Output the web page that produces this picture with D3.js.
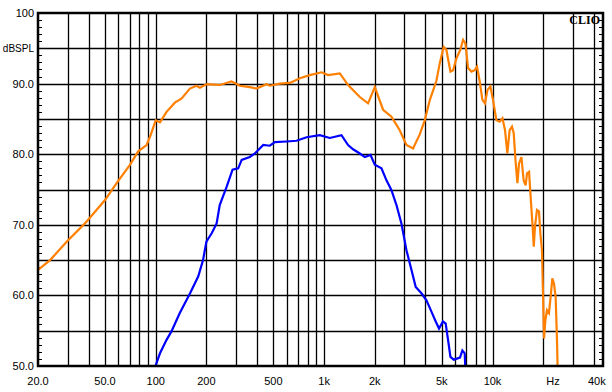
<!DOCTYPE html>
<html>
<head>
<meta charset="utf-8">
<script src="https://cdn.jsdelivr.net/npm/d3@7"></script>
<style>
  body { margin: 0; background: #fff; }
  svg { display: block; }
  text { font-family: "Liberation Sans", Arial, sans-serif; }
</style>
</head>
<body>
<div id="chart"></div>
<script>
// ---- data ----
var orangeFreq = [20, 23.6, 29.6, 38, 50, 58.6, 70.3, 78.7, 88.3, 93.3, 100, 106, 116, 130, 142.6, 159.6, 175, 183, 200,
  210, 240, 282, 316, 362, 397, 455, 476, 546, 626, 718, 822, 966, 1057, 1240, 1388, 1630, 1824, 2000, 2240, 2512,
  2812, 3083, 3375, 3698, 3960, 4247, 4645, 4864, 5130, 5323, 5626, 5836, 6111, 6446, 6687, 6906, 7161, 7500, 7840,
  8091, 8398, 8710, 9020, 9330, 9720, 10070, 10550, 11040, 11460, 11870, 12250, 12640, 13050, 13360, 13740, 14060,
  14370, 14850, 15310, 15740, 16030, 16480, 16790, 17100, 17400, 17580, 17870, 18370, 18880, 19240, 19670, 19950,
  20230, 20610, 21070, 21640, 22140, 22660, 23170, 23710, 24150, 24400];
var orangeDb = [63.6, 65.0, 67.6, 70.2, 73.5, 75.9, 78.5, 80.4, 81.3, 82.7, 84.8, 84.5, 86.0, 87.3, 87.9, 89.3, 89.7, 89.4, 89.9,
  89.9, 89.8, 90.3, 89.7, 89.5, 89.3, 89.9, 89.7, 90.0, 90.1, 90.75, 91.2, 91.6, 91.2, 91.45, 89.8, 88.1, 87.2, 89.5, 86.3, 85.3,
  83.4, 81.3, 80.8, 82.8, 84.8, 87.7, 90.4, 92.9, 95.2, 94.8, 91.7, 91.9, 93.6, 94.8, 96.2, 95.7, 92.2, 91.7, 91.9,
  92.4, 90.3, 87.7, 87.2, 89.1, 89.6, 87.7, 84.8, 84.6, 85.1, 83.4, 80.1, 83.4, 83.9, 83.0, 78.7, 75.9,
  78.7, 79.6, 76.3, 75.6, 77.3, 77.5, 74.5, 71.6, 68.8, 66.9, 69.7, 72.1, 71.9, 68.8, 66.4, 60.3,
  53.9, 56.5, 57.9, 57.5, 59.8, 62.4, 61.7, 59.8, 53.7, 49];

var blueFreq = [100, 106, 116, 124, 139, 160, 179, 191, 200, 215, 230, 240, 264, 286, 309, 324, 362, 388, 435, 476, 510,
  598, 686, 787, 943, 1081, 1268, 1388, 1486, 1630, 1745, 1885, 2000, 2191, 2346, 2512, 2690, 2878, 3083, 3303,
  3500, 3785, 4053, 4338, 4600, 4813, 5080, 5272, 5445, 5626, 5890, 6410, 6625, 6840, 6900];
var blueDb = [50.1, 51.8, 53.7, 54.9, 57.5, 60.3, 62.7, 65.0, 67.6, 68.8, 70.2, 72.8, 75.4, 77.8, 78.0, 79.2, 79.6, 80.1, 81.3, 81.2, 81.7,
  81.8, 81.9, 82.4, 82.7, 82.3, 82.7, 81.3, 80.7, 80.1, 79.6, 79.9, 78.5, 78.0, 76.3, 74.9, 72.8, 70.2, 66.4, 63.6,
  61.2, 60.3, 59.3, 57.7, 56.3, 55.3, 56.3, 56.0, 53.7, 51.3, 50.9, 51.2, 52.2, 51.8, 49.5];

var xTickVals = [20, 50, 100, 200, 500, 1000, 2000, 5000, 10000, 40000];
var xTickText = ["20.0", "50.0", "100", "200", "500", "1k", "2k", "5k", "10k", "40k"];
var yTickVals = [100, 95, 90, 80, 70, 60, 50];
var yTickText = ["100", "dBSPL", "90.0", "80.0", "70.0", "60.0", "50.0"];

// ---- layout ----
var W = 612, H = 392;
var pLeft = 38, pRight = 603, pTop = 13, pBottom = 366;

var xScale = d3.scaleLog().domain([20, 45000]).range([pLeft, pRight - 0.5]);
var yScale = d3.scaleLinear().domain([50, 100]).range([pBottom, pTop]);

var svg = d3.select("#chart").append("svg")
    .attr("width", W).attr("height", H);

svg.append("rect").attr("width", W).attr("height", H).attr("fill", "#fff");

svg.append("clipPath").attr("id", "plot")
  .append("rect").attr("x", pLeft).attr("y", pTop)
  .attr("width", pRight - pLeft).attr("height", pBottom - pTop);

// vertical grid: every 1..9 x decade
var vGrid = [];
[10, 100, 1000, 10000].forEach(function(dec) {
  for (var m = 1; m <= 9; m++) {
    var f = m * dec;
    if (f > 20 && f < 45000) vGrid.push(f);
  }
});
svg.append("g").selectAll("line").data(vGrid).enter().append("line")
  .attr("x1", function(d) { return Math.round(xScale(d)) + 0.5; })
  .attr("x2", function(d) { return Math.round(xScale(d)) + 0.5; })
  .attr("y1", pTop).attr("y2", pBottom)
  .attr("stroke", "#000").attr("stroke-width", 1.3);

// horizontal grid every 5 dB
var hGrid = d3.range(55, 100, 5);
svg.append("g").selectAll("line").data(hGrid).enter().append("line")
  .attr("x1", pLeft).attr("x2", pRight)
  .attr("y1", function(d) { return Math.round(yScale(d)) + 0.5; })
  .attr("y2", function(d) { return Math.round(yScale(d)) + 0.5; })
  .attr("stroke", "#000").attr("stroke-width", 1.3);

// minor ticks every 1 dB on both sides
var minor = d3.range(51, 100, 1).filter(function(d) { return d % 5 != 0; });
var ticks = svg.append("g");
ticks.selectAll(".tl").data(minor).enter().append("line")
  .attr("x1", pLeft).attr("x2", pLeft + 4)
  .attr("y1", function(d) { return Math.round(yScale(d)) + 0.5; })
  .attr("y2", function(d) { return Math.round(yScale(d)) + 0.5; })
  .attr("stroke", "#000").attr("stroke-width", 1);
ticks.selectAll(".tr").data(minor).enter().append("line")
  .attr("x1", pRight - 4).attr("x2", pRight)
  .attr("y1", function(d) { return Math.round(yScale(d)) + 0.5; })
  .attr("y2", function(d) { return Math.round(yScale(d)) + 0.5; })
  .attr("stroke", "#000").attr("stroke-width", 1);

// curves
var line = d3.line()
  .x(function(d) { return xScale(d[0]); })
  .y(function(d) { return yScale(d[1]); });

var curves = svg.append("g").attr("clip-path", "url(#plot)");
curves.append("path")
  .datum(blueFreq.map(function(f, i) { return [f, blueDb[i]]; }))
  .attr("d", line).attr("fill", "none")
  .attr("stroke", "#0000ff").attr("stroke-width", 2.2);
curves.append("path")
  .datum(orangeFreq.map(function(f, i) { return [f, orangeDb[i]]; }))
  .attr("d", line).attr("fill", "none")
  .attr("stroke", "#ff8000").attr("stroke-width", 2.2);

// frame
svg.append("rect")
  .attr("x", pLeft).attr("y", pTop)
  .attr("width", pRight - pLeft).attr("height", pBottom - pTop)
  .attr("fill", "none").attr("stroke", "#000").attr("stroke-width", 2.5);

// y labels
svg.append("g").selectAll("text").data(yTickVals).enter().append("text")
  .attr("x", 34)
  .attr("y", function(d) { return yScale(d) + 4; })
  .attr("text-anchor", "end")
  .style("font-size", function(d, i) { return i == 1 ? "10px" : "11px"; })
  .text(function(d, i) { return yTickText[i]; });

// x labels
svg.append("g").selectAll("text").data(xTickVals).enter().append("text")
  .attr("x", function(d, i) { return i == xTickVals.length - 1 ? xScale(d) + 3 : xScale(d); })
  .attr("y", 385)
  .attr("text-anchor", "middle")
  .style("font-size", "11px")
  .text(function(d, i) { return xTickText[i]; });

svg.append("text").attr("x", 553).attr("y", 385).attr("text-anchor", "middle")
  .style("font-size", "11px").text("Hz");

svg.append("text").attr("x", 600).attr("y", 24).attr("text-anchor", "end")
  .style("font-family", "'Liberation Serif', 'Times New Roman', serif")
  .style("font-weight", "bold").style("font-size", "12px")
  .text("CLIO");
</script>
</body>
</html>
